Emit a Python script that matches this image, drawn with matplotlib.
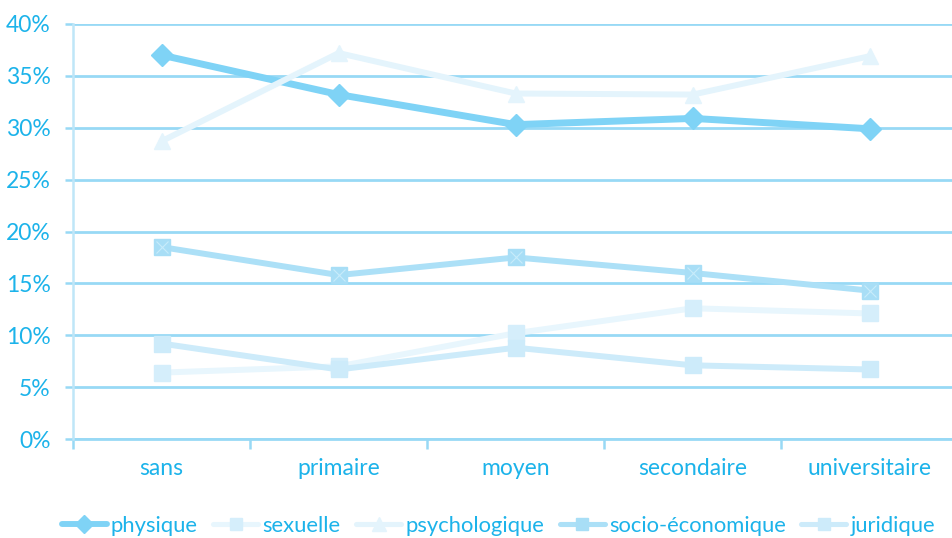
import matplotlib
matplotlib.use("Agg")
import matplotlib.pyplot as plt
from matplotlib.lines import Line2D
import numpy as np

# Education level categories
categories = ["sans", "primaire", "moyen", "secondaire", "universitaire"]

# Share of each type of violence (%) by education level
physique = [37.0, 33.2, 30.3, 30.9, 29.9]
sexuelle = [6.4, 7.0, 10.2, 12.6, 12.1]
psychologique = [28.7, 37.2, 33.3, 33.2, 36.9]
socio_economique = [18.5, 15.8, 17.5, 16.0, 14.3]
juridique = [9.2, 6.7, 8.8, 7.1, 6.7]

y_ticks = [0, 5, 10, 15, 20, 25, 30, 35, 40]
y_tick_labels = [f"{v}%" for v in y_ticks]

TEXT = "#1cb3ea"
GRID = "#98d9f5"
SPINE = "#bfe6f8"

plt.rcParams["font.family"] = ["Lato", "DejaVu Sans"]

W, H = 952, 538
fig = plt.figure(figsize=(W / 100, H / 100), dpi=100)
left_px, right_px, top_px, bottom_px = 73, 958.5, 24, 439
ax = fig.add_axes([left_px / W, 1 - bottom_px / H,
                   (right_px - left_px) / W, (bottom_px - top_px) / H])

x = np.arange(len(categories))

series = [
    ("physique", physique, dict(color="#7fd3f6", lw=5.0, marker="D", ms=11,
                                mfc="#7fd3f6", mec="#7fd3f6")),
    ("sexuelle", sexuelle, dict(color="#e8f6fd", lw=4.3, marker="s", ms=11,
                                mfc="#d5eefb", mec="#d5eefb")),
    ("psychologique", psychologique, dict(color="#e4f4fc", lw=4.3, marker="^", ms=12,
                                          mfc="#e4f4fc", mec="#e4f4fc")),
    ("socio-économique", socio_economique, dict(color="#ace0f7", lw=4.3, marker="s", ms=11,
                                                mfc="#a8def6", mec="#a8def6")),
    ("juridique", juridique, dict(color="#cdebfa", lw=4.3, marker="s", ms=11,
                                  mfc="#cdebfa", mec="#cdebfa")),
]

handles = []
for i, (name, vals, style) in enumerate(series):
    ax.plot(x, vals, zorder=3 + i, solid_capstyle="round", **style)
    if name == "socio-économique":
        ax.plot(x, vals, ls="none", marker="x", ms=9, mew=0.8,
                color="#c8ecfb", zorder=3 + i + 0.5)
    hstyle = dict(style)
    hstyle["lw"] = style["lw"] * 0.85
    hstyle["ms"] = style["ms"] * 0.85
    handles.append(Line2D([0], [0], solid_capstyle="round", **hstyle))

ax.set_ylim(0, 40)
ax.set_xlim(-0.5, len(categories) - 0.5)

ax.set_yticks(y_ticks)
ax.set_yticklabels(y_tick_labels)
ax.yaxis.grid(True, color=GRID, lw=2.0, zorder=1)
ax.set_axisbelow(True)

# category labels centred, tick marks on the boundaries between them
ax.set_xticks(x)
ax.set_xticklabels(categories)
ax.set_xticks(np.arange(len(categories) + 1) - 0.5, minor=True)
ax.tick_params(axis="x", which="major", length=0, pad=14, labelsize=16.5, labelcolor=TEXT)
ax.tick_params(axis="x", which="minor", length=7, width=1.8, color=GRID, direction="out")
ax.tick_params(axis="y", length=6, width=1.8, color=GRID, pad=10, labelsize=16.5,
               labelcolor=TEXT)

for side in ["top", "right", "bottom"]:
    ax.spines[side].set_visible(False)
ax.spines["left"].set_color(SPINE)
ax.spines["left"].set_linewidth(1.8)
ax.axhline(0, color=GRID, lw=2.0, zorder=2, clip_on=False)

leg = fig.legend(handles, [s[0] for s in series], loc="center",
                 bbox_to_anchor=(498.5 / W, 1 - 526 / H), ncol=5, frameon=False,
                 fontsize=15.8, handlelength=2.05, handletextpad=0.2,
                 columnspacing=0.7, borderaxespad=0)
for t in leg.get_texts():
    t.set_color(TEXT)

fig.savefig("out.png", dpi=100)
